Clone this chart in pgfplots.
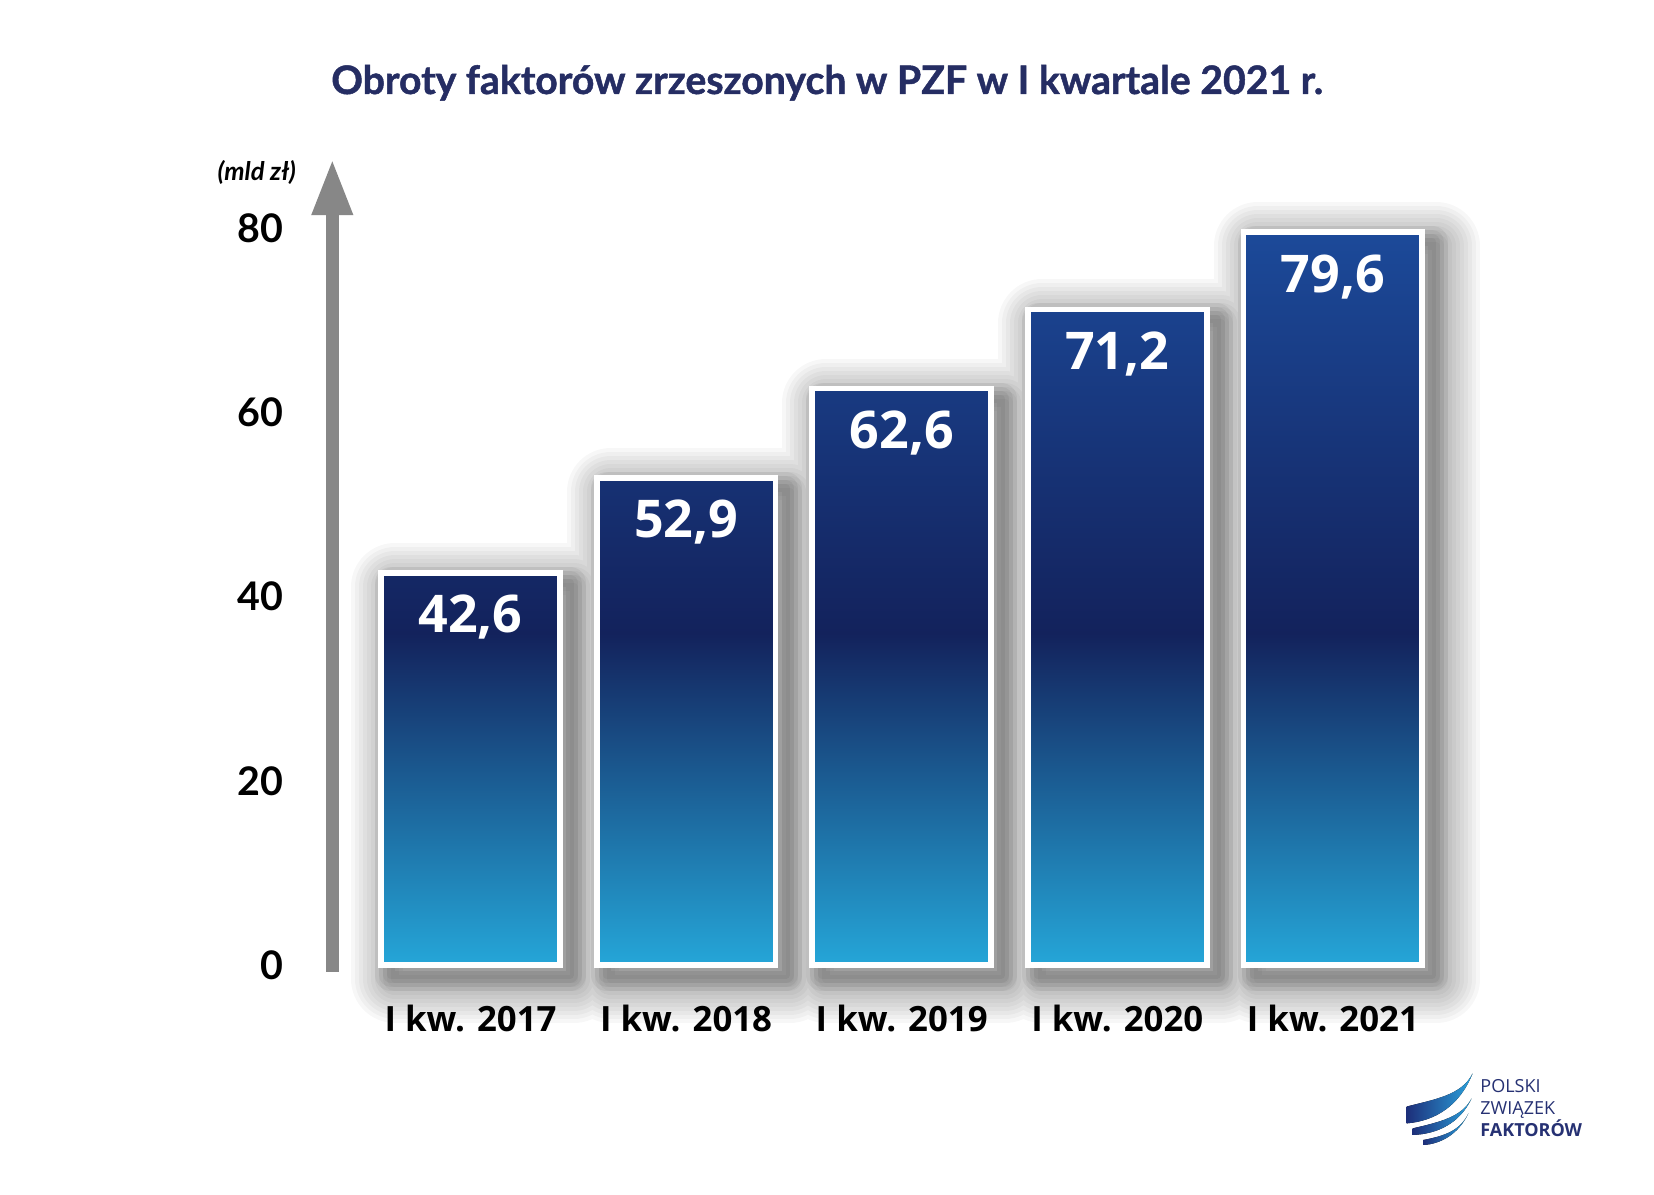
\documentclass[border=0pt]{standalone}
\usepackage{pgfplots}
\usepackage{pgfplotstable}
\pgfplotsset{compat=1.18}
\usepackage{fontspec}
\setmainfont{Open Sans}
\newfontfamily\lato{Lato}
\newfontfamily\latoH{Lato}[BoldFeatures={FakeBold=1.2}]
\usetikzlibrary{arrows.meta}
\definecolor{cbot}{RGB}{37,166,216}
\definecolor{cdark}{RGB}{19,34,92}
\definecolor{ctopmax}{RGB}{28,74,154}
\definecolor{axisgray}{RGB}{135,135,135}
\definecolor{titlecol}{RGB}{37,45,99}
\definecolor{logonavy}{RGB}{38,49,115}
\definecolor{logodark}{RGB}{29,47,122}
\definecolor{logolight}{RGB}{43,163,221}
\colorlet{ctopA}{ctopmax!15!cdark}
\colorlet{ctopB}{ctopmax!38!cdark}
\colorlet{ctopC}{ctopmax!60!cdark}
\colorlet{ctopD}{ctopmax!80!cdark}
\colorlet{ctopE}{ctopmax!99!cdark}
\pgfdeclareverticalshading{barA}{100bp}{color(0bp)=(cbot); color(25bp)=(cbot); color(67.25bp)=(cdark); color(75bp)=(ctopA); color(100bp)=(ctopA)}
\pgfdeclareverticalshading{barB}{100bp}{color(0bp)=(cbot); color(25bp)=(cbot); color(59.03bp)=(cdark); color(75bp)=(ctopB); color(100bp)=(ctopB)}
\pgfdeclareverticalshading{barC}{100bp}{color(0bp)=(cbot); color(25bp)=(cbot); color(53.75bp)=(cdark); color(75bp)=(ctopC); color(100bp)=(ctopC)}
\pgfdeclareverticalshading{barD}{100bp}{color(0bp)=(cbot); color(25bp)=(cbot); color(50.28bp)=(cdark); color(75bp)=(ctopD); color(100bp)=(ctopD)}
\pgfdeclareverticalshading{barE}{100bp}{color(0bp)=(cbot); color(25bp)=(cbot); color(47.61bp)=(cdark); color(75bp)=(ctopE); color(100bp)=(ctopE)}
\pgfplotstableread{
x y
0 42.6
1 52.9
2 62.6
3 71.2
4 79.6
}\bardata
\pgfplotsset{
  mybar/.style={ybar, bar width=89.4bp, bar shift=0pt, draw=white, line width=2.85bp,
    shade, shading=#1,
    nodes near coords={\pgfmathprintnumber[fixed,fixed zerofill,precision=1,use comma,assume math mode=true]{\pgfplotspointmeta}},
    every node near coord/.append style={anchor=base, yshift=-30bp, inner sep=0pt, text=white,
      font=\bfseries\fontsize{26bp}{30bp}\selectfont}},
  shadowwide/.style={ybar, bar width=89.4bp, bar shift=0pt, xshift=7bp, yshift=-7bp,
    draw=black, fill=none, line width=#1, line join=round, draw opacity=0.03},
  shadowtight/.style={ybar, bar width=89.4bp, bar shift=0pt, xshift=5bp, yshift=-5bp,
    draw=black, fill=none, line width=#1, line join=round, draw opacity=0.05},
}
\begin{document}
\begin{tikzpicture}
\path[fill=white, use as bounding box] (0,0) rectangle (827bp,597.5bp);
\node[anchor=base, inner sep=0pt, text=titlecol, font=\latoH\bfseries\fontsize{19.6bp}{24bp}\selectfont] at (413.5bp,550.5bp) {Obroty faktorów zrzeszonych w PZF w I kwartale 2021 r.};
\node[anchor=base west, inner sep=0pt, font=\lato\bfseries\itshape\fontsize{12.8bp}{15bp}\selectfont] at (108.6bp,507.2bp) {(mld zł)};
\begin{axis}[
  at={(166.15bp,111.65bp)}, anchor=south west,
  scale only axis, width=565bp, height=406.6bp,
  xmin=-0.641, xmax=4.6, ymin=-0.73, ymax=87.6,
  axis lines=left, clip=false,
  x axis line style={draw=none},
  y axis line style={draw=axisgray, line width=6.65bp, -{Triangle[length=28.35bp,width=18.85bp]}},
  major tick length=0pt,
  xtick={0,1,2,3,4},
  xticklabels={I kw. 2017,I kw. 2018,I kw. 2019,I kw. 2020,I kw. 2021},
  ytick={0,20,40,60,80},
  xticklabel style={anchor=base, inner sep=0pt, yshift=-30bp, font=\bfseries\fontsize{17.4bp}{20bp}\selectfont},
  yticklabel style={anchor=east, inner sep=0pt, xshift=-24.15bp, font=\lato\bfseries\fontsize{19.7bp}{22bp}\selectfont},
  /pgf/number format/assume math mode=true,
]
\pgfplotsinvokeforeach{4bp,8bp,12bp,16bp,20bp,24bp,28bp,32bp,36bp,40bp,44bp}{
  \addplot[shadowwide=#1] table[x=x,y=y] {\bardata};
}
\pgfplotsinvokeforeach{4bp,8bp,12bp,16bp}{
  \addplot[shadowtight=#1] table[x=x,y=y] {\bardata};
}
\addplot[mybar=barA] coordinates {(0,42.6)};
\addplot[mybar=barB] coordinates {(1,52.9)};
\addplot[mybar=barC] coordinates {(2,62.6)};
\addplot[mybar=barD] coordinates {(3,71.2)};
\addplot[mybar=barE] coordinates {(4,79.6)};
\end{axis}
% logo
\fill[left color=logodark, right color=logolight] (703.3bp,44.2bp) .. controls (718bp,48bp) and (731bp,50bp) .. (736.3bp,60.8bp) .. controls (730bp,45bp) and (718bp,37bp) .. (703.3bp,35.8bp) -- cycle;
\fill[left color=logodark, right color=logolight] (706.3bp,33.3bp) .. controls (720bp,36.5bp) and (731bp,39bp) .. (735.8bp,48.3bp) .. controls (730bp,36bp) and (719bp,30.5bp) .. (706.3bp,30bp) -- cycle;
\fill[left color=logodark, right color=logolight] (711.7bp,27.5bp) .. controls (722bp,29.5bp) and (730bp,32bp) .. (734.2bp,40.8bp) .. controls (729bp,30bp) and (720bp,25.5bp) .. (711.7bp,25bp) -- cycle;
\begin{scope}[every node/.style={anchor=base west, inner sep=0pt, text=logonavy}]
\node[font=\fontsize{9bp}{10bp}\selectfont] at (740bp,51.35bp) {POLSKI};
\node[font=\fontsize{9bp}{10bp}\selectfont] at (740bp,40bp) {ZWIĄZEK};
\node[font=\bfseries\fontsize{9bp}{10bp}\selectfont] at (740bp,29.5bp) {FAKTORÓW};
\end{scope}
\end{tikzpicture}
\end{document}
